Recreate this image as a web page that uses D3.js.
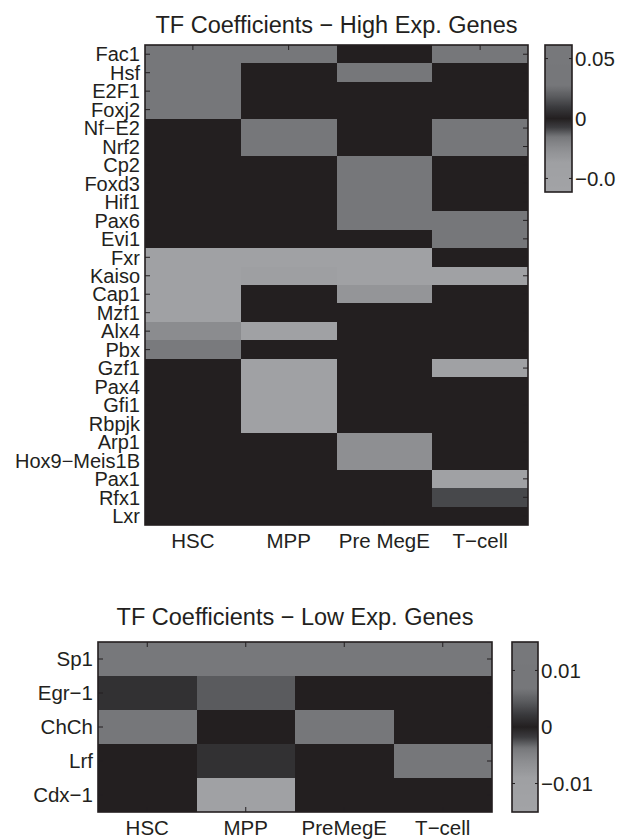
<!DOCTYPE html>
<html>
<head>
<meta charset="utf-8">
<script src="https://cdn.jsdelivr.net/npm/d3@7"></script>
<style>
  body { margin: 0; background: #fff; }
  text { font-family: "Liberation Sans", Arial, Helvetica, sans-serif; fill: #231f20; }
</style>
</head>
<body>
<svg id="chart" width="618" height="839"></svg>
<script>
// high expression genes
var highRows = ["Fac1", "Hsf", "E2F1", "Foxj2", "Nf\u2212E2", "Nrf2", "Cp2", "Foxd3", "Hif1", "Pax6", "Evi1",
  "Fxr", "Kaiso", "Cap1", "Mzf1", "Alx4", "Pbx", "Gzf1", "Pax4", "Gfi1", "Rbpjk", "Arp1",
  "Hox9\u2212Meis1B", "Pax1", "Rfx1", "Lxr"];
var highCols = ["HSC", "MPP", "Pre MegE", "T\u2212cell"];
var highValues = [
  [0.04, 0.04, 0, 0.04],
  [0.04, 0, 0.04, 0],
  [0.042, 0, 0, 0],
  [0.042, 0, 0, 0],
  [0, 0.04, 0, 0.04],
  [0, 0.04, 0, 0.04],
  [0, 0, 0.04, 0],
  [0, 0, 0.04, 0],
  [0, 0, 0.04, 0],
  [0, 0, 0.04, 0.04],
  [0, 0, 0, 0.04],
  [-0.045, -0.042, -0.045, 0],
  [-0.045, -0.036, -0.045, -0.045],
  [-0.045, 0, -0.03, 0],
  [-0.045, 0, 0, 0],
  [-0.024, -0.045, 0, 0],
  [-0.016, 0, 0, 0],
  [0, -0.045, 0, -0.045],
  [0, -0.045, 0, 0],
  [0, -0.045, 0, 0],
  [0, -0.045, 0, 0],
  [0, 0, -0.026, 0],
  [0, 0, -0.026, 0],
  [0, 0, 0, -0.045],
  [0, 0, 0, 0.013],
  [0, 0, 0, 0]
];
var highTicks = [0.05, 0, -0.05];
var highTickLabels = ["0.05", "0", "\u22120.0"];

// low expression genes
var lowRows = ["Sp1", "Egr\u22121", "ChCh", "Lrf", "Cdx\u22121"];
var lowCols = ["HSC", "MPP", "PreMegE", "T\u2212cell"];
var lowValues = [
  [0.012, 0.012, 0.012, 0.011],
  [0.0015, 0.0045, 0, 0],
  [0.009, 0, 0.009, 0],
  [0, 0.0015, 0, 0.009],
  [0, -0.0105, 0, 0]
];
var lowTicks = [0.01, 0, -0.01];
var lowTickLabels = ["0.01", "0", "\u22120.01"];

// grey map, value as a fraction of the colour limit
var mapStops = [-1, -0.6, -0.4, -0.25, -0.12, 0, 0.15, 0.3, 0.45, 1];
var mapColors = ["#a2a3a6", "#9fa0a3", "#8c8d90", "#77787b", "#3c3c3f", "#231f20", "#3a3a3d", "#5a5b5e", "#76777a", "#77787b"];

var ink = "#231f20";
var svg = d3.select("#chart");

function drawPanel(opt) {
  var g = svg.append("g");
  var x = d3.scaleBand().domain(opt.cols).range([opt.left, opt.right]);
  var y = d3.scaleBand().domain(opt.rows).range([opt.top, opt.bottom]);
  var color = d3.scaleLinear()
    .domain(mapStops.map(function(s) { return s * opt.limit; }))
    .range(mapColors)
    .clamp(true);

  var cells = [];
  opt.values.forEach(function(row, i) {
    row.forEach(function(v, j) {
      cells.push({ row: opt.rows[i], col: opt.cols[j], v: v });
    });
  });

  g.append("g")
    .attr("shape-rendering", "crispEdges")
    .selectAll("rect")
    .data(cells)
    .enter().append("rect")
      .attr("x", function(d) { return Math.round(x(d.col)); })
      .attr("y", function(d) { return Math.round(y(d.row)); })
      .attr("width", function(d) { return Math.round(x(d.col) + x.bandwidth()) - Math.round(x(d.col)); })
      .attr("height", function(d) { return Math.round(y(d.row) + y.bandwidth()) - Math.round(y(d.row)); })
      .attr("fill", function(d) { return color(d.v); });

  // inward ticks on all four sides
  var ticks = g.append("g").attr("stroke", ink).attr("stroke-width", 1);
  opt.rows.forEach(function(r) {
    var yy = y(r) + y.bandwidth() / 2;
    ticks.append("line").attr("x1", opt.left).attr("x2", opt.left + 5).attr("y1", yy).attr("y2", yy);
    ticks.append("line").attr("x1", opt.right).attr("x2", opt.right - 5).attr("y1", yy).attr("y2", yy);
  });
  opt.cols.forEach(function(c) {
    var xx = x(c) + x.bandwidth() / 2;
    ticks.append("line").attr("x1", xx).attr("x2", xx).attr("y1", opt.top).attr("y2", opt.top + 5);
    ticks.append("line").attr("x1", xx).attr("x2", xx).attr("y1", opt.bottom).attr("y2", opt.bottom - 5);
  });

  g.append("rect")
    .attr("x", opt.left).attr("y", opt.top)
    .attr("width", opt.right - opt.left).attr("height", opt.bottom - opt.top)
    .attr("fill", "none").attr("stroke", ink).attr("stroke-width", 1.6);

  g.selectAll("text.row")
    .data(opt.rows)
    .enter().append("text")
      .attr("class", "row")
      .attr("x", opt.left - 5)
      .attr("y", function(d) { return y(d) + y.bandwidth() / 2; })
      .attr("dy", "0.36em")
      .attr("text-anchor", "end")
      .style("font-size", opt.rowFont)
      .text(function(d) { return d; });

  g.selectAll("text.col")
    .data(opt.cols)
    .enter().append("text")
      .attr("class", "col")
      .attr("x", function(d) { return x(d) + x.bandwidth() / 2; })
      .attr("y", opt.labelY)
      .attr("text-anchor", "middle")
      .style("font-size", "20.5px")
      .text(function(d) { return d; });

  g.append("text")
    .attr("x", (opt.left + opt.right) / 2)
    .attr("y", opt.titleY)
    .attr("text-anchor", "middle")
    .style("font-size", "23.5px")
    .text(opt.title);

  // colour bar
  var cb = opt.bar;
  var cy = d3.scaleLinear().domain([opt.limit, -opt.limit]).range([cb.top, cb.bottom]);
  var gradId = "grad" + opt.id;
  var grad = svg.append("defs").append("linearGradient")
    .attr("id", gradId)
    .attr("x1", 0).attr("x2", 0).attr("y1", 0).attr("y2", 1);
  grad.selectAll("stop")
    .data(d3.range(0, 1.0001, 0.01))
    .enter().append("stop")
      .attr("offset", function(d) { return d; })
      .attr("stop-color", function(d) { return color(cy.invert(cb.top + d * (cb.bottom - cb.top))); });

  g.append("rect")
    .attr("x", cb.left).attr("y", cb.top)
    .attr("width", cb.right - cb.left).attr("height", cb.bottom - cb.top)
    .attr("fill", "url(#" + gradId + ")")
    .attr("stroke", ink).attr("stroke-width", 1.6);

  var bt = g.append("g").attr("stroke", ink).attr("stroke-width", 1);
  opt.ticks.forEach(function(t) {
    bt.append("line").attr("x1", cb.left).attr("x2", cb.left + 3).attr("y1", cy(t)).attr("y2", cy(t));
    bt.append("line").attr("x1", cb.right).attr("x2", cb.right - 3).attr("y1", cy(t)).attr("y2", cy(t));
  });

  g.selectAll("text.bar")
    .data(opt.ticks)
    .enter().append("text")
      .attr("class", "bar")
      .attr("x", cb.right + 3)
      .attr("y", function(d) { return cy(d); })
      .attr("dy", "0.36em")
      .style("font-size", "20.5px")
      .text(function(d, i) { return opt.tickLabels[i]; });
}

drawPanel({
  id: "high",
  title: "TF Coefficients \u2212 High Exp. Genes",
  rows: highRows, cols: highCols, values: highValues,
  limit: 0.0613, ticks: highTicks, tickLabels: highTickLabels,
  left: 145, right: 528, top: 45, bottom: 525,
  labelY: 548, titleY: 33, rowFont: "20px",
  bar: { left: 545, right: 572, top: 45, bottom: 192 }
});

drawPanel({
  id: "low",
  title: "TF Coefficients \u2212 Low Exp. Genes",
  rows: lowRows, cols: lowCols, values: lowValues,
  limit: 0.01504, ticks: lowTicks, tickLabels: lowTickLabels,
  left: 98, right: 492, top: 642, bottom: 812,
  labelY: 835, titleY: 625, rowFont: "20.5px",
  bar: { left: 512, right: 538, top: 642, bottom: 812 }
});
</script>
</body>
</html>
